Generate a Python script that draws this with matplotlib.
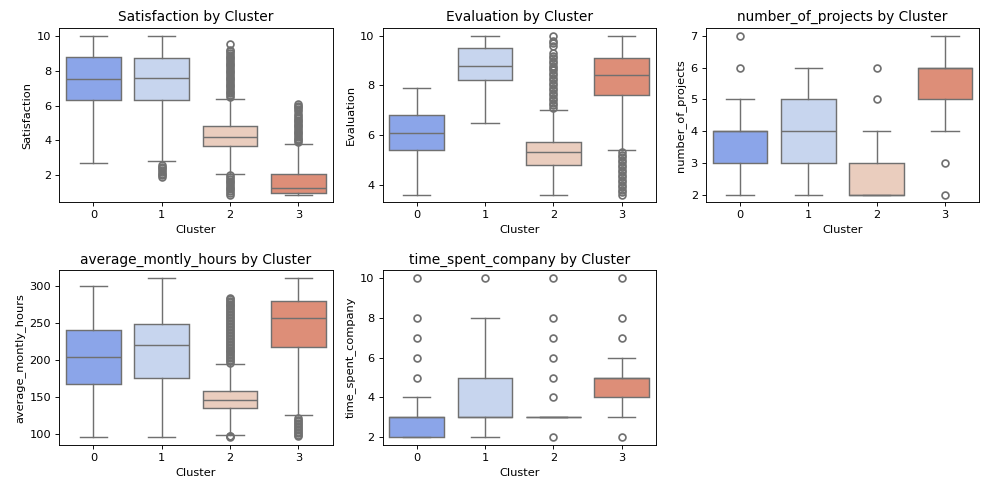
import matplotlib
matplotlib.use("Agg")
import matplotlib.pyplot as plt
import seaborn as sns

clusters = [0, 1, 2, 3]

# box stats per cluster: (whisker low, q1, median, q3, whisker high)
satisfaction = [(2.7, 6.3, 7.5, 8.8, 10.0), (2.8, 6.3, 7.6, 8.7, 10.0),
                (2.1, 3.7, 4.2, 4.8, 6.4), (0.9, 1.0, 1.3, 2.1, 3.8)]
satisfaction_out = [
    [],
    [1.9, 2.0, 2.1, 2.2, 2.3, 2.4, 2.5, 2.6],
    [0.9, 1.0, 1.1, 1.2, 1.3, 1.4, 1.5, 1.6, 1.7, 1.8, 1.9, 2.0,
     6.5, 6.6, 6.7, 6.8, 6.9, 7.0, 7.1, 7.2, 7.3, 7.4, 7.5, 7.6, 7.7, 7.8, 7.9, 8.0,
     8.1, 8.2, 8.3, 8.4, 8.5, 8.6, 8.7, 8.8, 8.9, 9.0, 9.1, 9.2, 9.5],
    [3.9, 4.0, 4.1, 4.2, 4.3, 4.4, 4.5, 4.6, 4.7, 4.8, 4.9, 5.0, 5.1, 5.2, 5.3,
     5.4, 5.5, 5.7, 5.8, 5.9, 6.0, 6.1],
]

evaluation = [(3.6, 5.4, 6.1, 6.8, 7.9), (6.5, 8.2, 8.8, 9.5, 10.0),
              (3.6, 4.8, 5.3, 5.7, 7.0), (5.4, 7.6, 8.4, 9.1, 10.0)]
evaluation_out = [
    [],
    [],
    [7.1, 7.2, 7.3, 7.4, 7.5, 7.6, 7.7, 7.8, 7.9, 8.0, 8.1, 8.2, 8.3, 8.4, 8.5,
     8.6, 8.7, 8.8, 8.9, 9.0, 9.1, 9.2, 9.3, 9.6, 9.7, 9.8, 10.0],
    [3.6, 3.7, 3.8, 3.9, 4.0, 4.1, 4.2, 4.3, 4.4, 4.5, 4.6, 4.7, 4.8, 4.9, 5.0,
     5.1, 5.2, 5.3],
]

projects = [(2, 3, 4, 4, 5), (2, 3, 4, 5, 6), (2, 2, 2, 3, 4), (4, 5, 6, 6, 7)]
projects_out = [[6, 7], [], [5, 6], [3, 2]]

hours = [(96, 167, 204, 240, 300), (96, 176, 220, 248, 310),
         (99, 135, 146, 158, 194), (126, 217, 256, 280, 310)]
hours_out = [
    [],
    [],
    [96, 97, 98,
     196, 198, 200, 202, 204, 206, 208, 210, 212, 214, 216, 218, 220, 222, 224,
     226, 228, 230, 232, 234, 236, 238, 240, 242, 244, 246, 248, 250, 252, 254,
     256, 258, 260, 262, 264, 266, 268, 270, 272, 274, 276, 278, 280, 282, 284],
    [97, 99, 101, 103, 105, 107, 109, 111, 113, 115, 117, 119, 121],
]

time_spent = [(2, 2, 3, 3, 4), (2, 3, 3, 5, 8), (3, 3, 3, 3, 3), (3, 4, 5, 5, 6)]
time_spent_out = [[5, 6, 7, 8, 10], [10], [2, 4, 5, 6, 7, 8, 10], [2, 7, 8, 10]]

features = ["Satisfaction", "Evaluation", "number_of_projects",
            "average_montly_hours", "time_spent_company"]
all_stats = [satisfaction, evaluation, projects, hours, time_spent]
all_out = [satisfaction_out, evaluation_out, projects_out, hours_out, time_spent_out]
yticks = [[2, 4, 6, 8, 10], [4, 6, 8, 10], [2, 3, 4, 5, 6, 7],
          [100, 150, 200, 250, 300], [2, 4, 6, 8, 10]]

colors = sns.color_palette("coolwarm", 4, desat=0.75)
gray = "#707070"

# picture is a 12in wide figure shrunk to 987 px
fig, axes = plt.subplots(2, 3, figsize=(12, 480 / 82.25), dpi=82.25)
fig.subplots_adjust(left=0.06, right=0.992, bottom=0.073, top=0.942,
                    wspace=0.183, hspace=0.389)
axes = axes.flatten()

for i, name in enumerate(features):
    ax = axes[i]
    stats = []
    for s, out in zip(all_stats[i], all_out[i]):
        lo, q1, med, q3, hi = s
        stats.append(dict(whislo=lo, q1=q1, med=med, q3=q3, whishi=hi, fliers=out))
    bp = ax.bxp(stats, positions=clusters, widths=0.8, patch_artist=True,
                boxprops=dict(edgecolor=gray, linewidth=1.25),
                medianprops=dict(color=gray, linewidth=1.25),
                whiskerprops=dict(color=gray, linewidth=1.25),
                capprops=dict(color=gray, linewidth=1.25),
                flierprops=dict(marker="o", markerfacecolor="none",
                                markeredgecolor=gray, markersize=6, markeredgewidth=1.5),
                capwidths=0.4)
    for patch, c in zip(bp["boxes"], colors):
        patch.set_facecolor(c)
    ax.set_xlim(-0.5, 3.5)
    ax.set_xticks(clusters)
    ax.set_xticklabels([str(c) for c in clusters])
    ax.set_yticks(yticks[i])
    ax.set_title(name + " by Cluster")
    ax.set_xlabel("Cluster")
    ax.set_ylabel(name)

fig.delaxes(axes[5])
plt.savefig("out.png")
